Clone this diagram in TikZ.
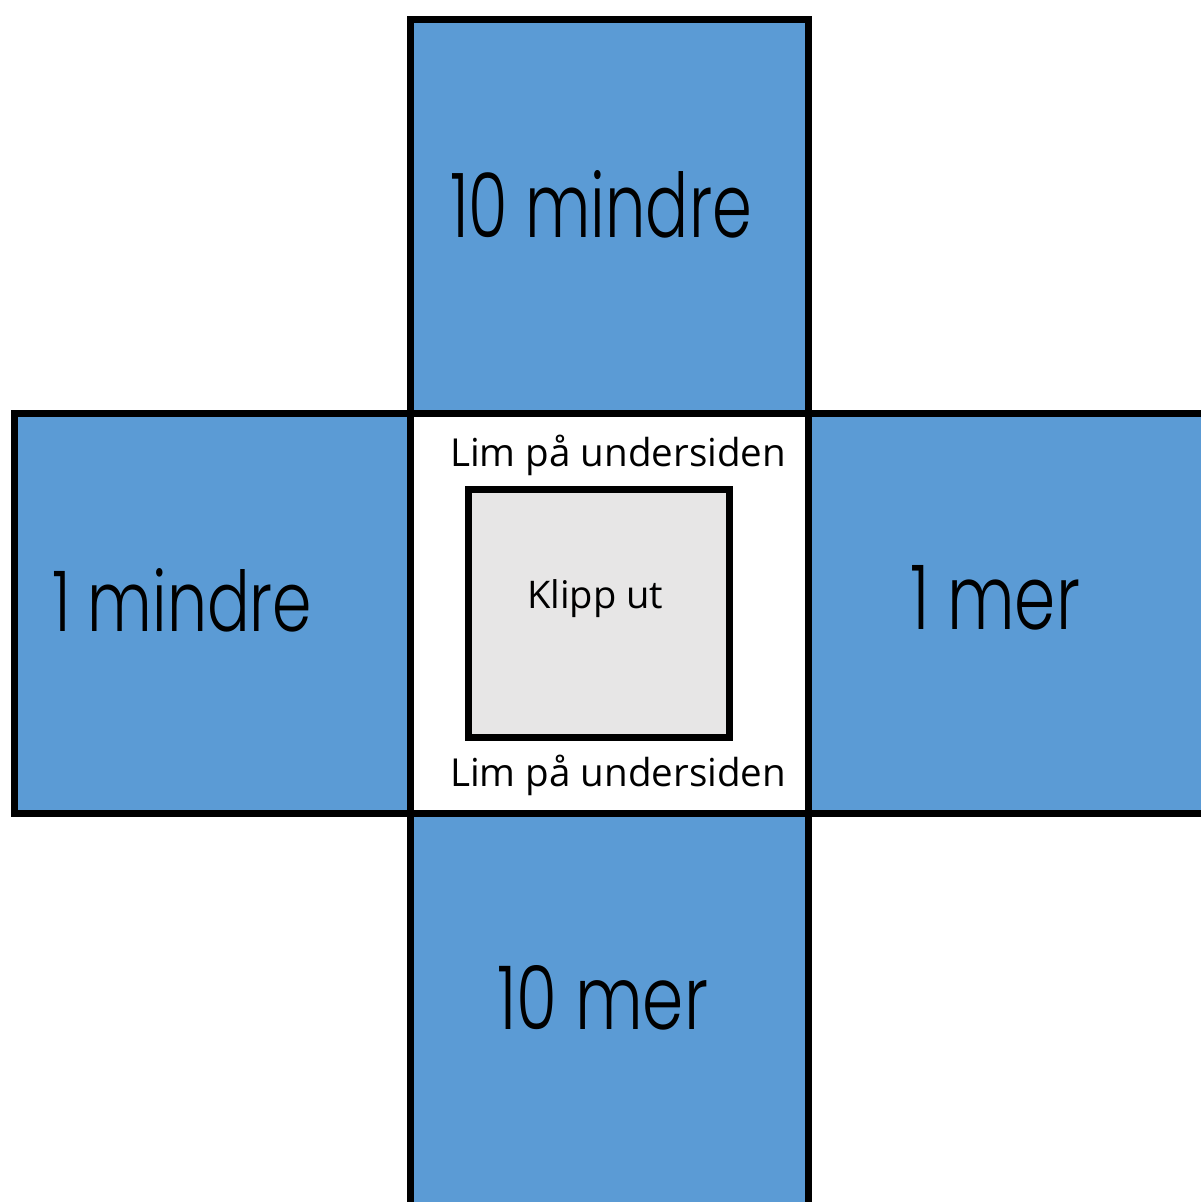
\documentclass[tikz,border=0pt]{standalone}
\usepackage{fontspec}
\setmainfont{Open Sans}
\newfontfamily\handfont{Poppins Light}
\definecolor{tileblue}{HTML}{5B9BD5}
\definecolor{cutgray}{HTML}{E7E6E6}
\begin{document}
\begin{tikzpicture}[x=1pt,y=-1pt,
  tile/.style={fill=tileblue,draw=black,line width=7pt},
  centre/.style={fill=white,draw=black,line width=7pt},
  cutbox/.style={fill=cutgray,draw=black,line width=7pt},
  hand/.style={inner sep=0pt,outer sep=0pt,font=\handfont,anchor=south west},
  note/.style={inner sep=0pt,outer sep=0pt,anchor=base west}]
\clip (0,0) rectangle (1201,1202);
\fill[white] (0,0) rectangle (1201,1202);
\path[tile] (410.5,19) rectangle (808.5,413);
\path[tile] (14,413) rectangle (410.5,813.5);
\path[tile] (808.5,413) rectangle (1215,813.5);
\path[tile] (410.5,813.5) rectangle (808.5,1215);
\path[centre] (410.5,413) rectangle (808.5,813.5);
\path[cutbox] (468.5,489.5) rectangle (729.5,737);
\node[hand] (tenless) at (450,238) {\resizebox{302pt}{67pt}{10 mindre}};
\node[hand] (oneless) at (52,632) {\resizebox{260pt}{63pt}{1 mindre}};
\node[hand] (onemore) at (910,630) {\resizebox{170pt}{64pt}{1 mer}};
\node[hand] (tenmore) at (497,1030) {\resizebox{211pt}{64pt}{10 mer}};
\node[note] (gluetop) at (450,466) {\resizebox{336pt}{!}{Lim på undersiden}};
\node[note] (gluebottom) at (450,786) {\resizebox{336pt}{!}{Lim på undersiden}};
\node[note] (cutout) at (527,608) {\resizebox{136pt}{!}{Klipp ut}};
\end{tikzpicture}
\end{document}
